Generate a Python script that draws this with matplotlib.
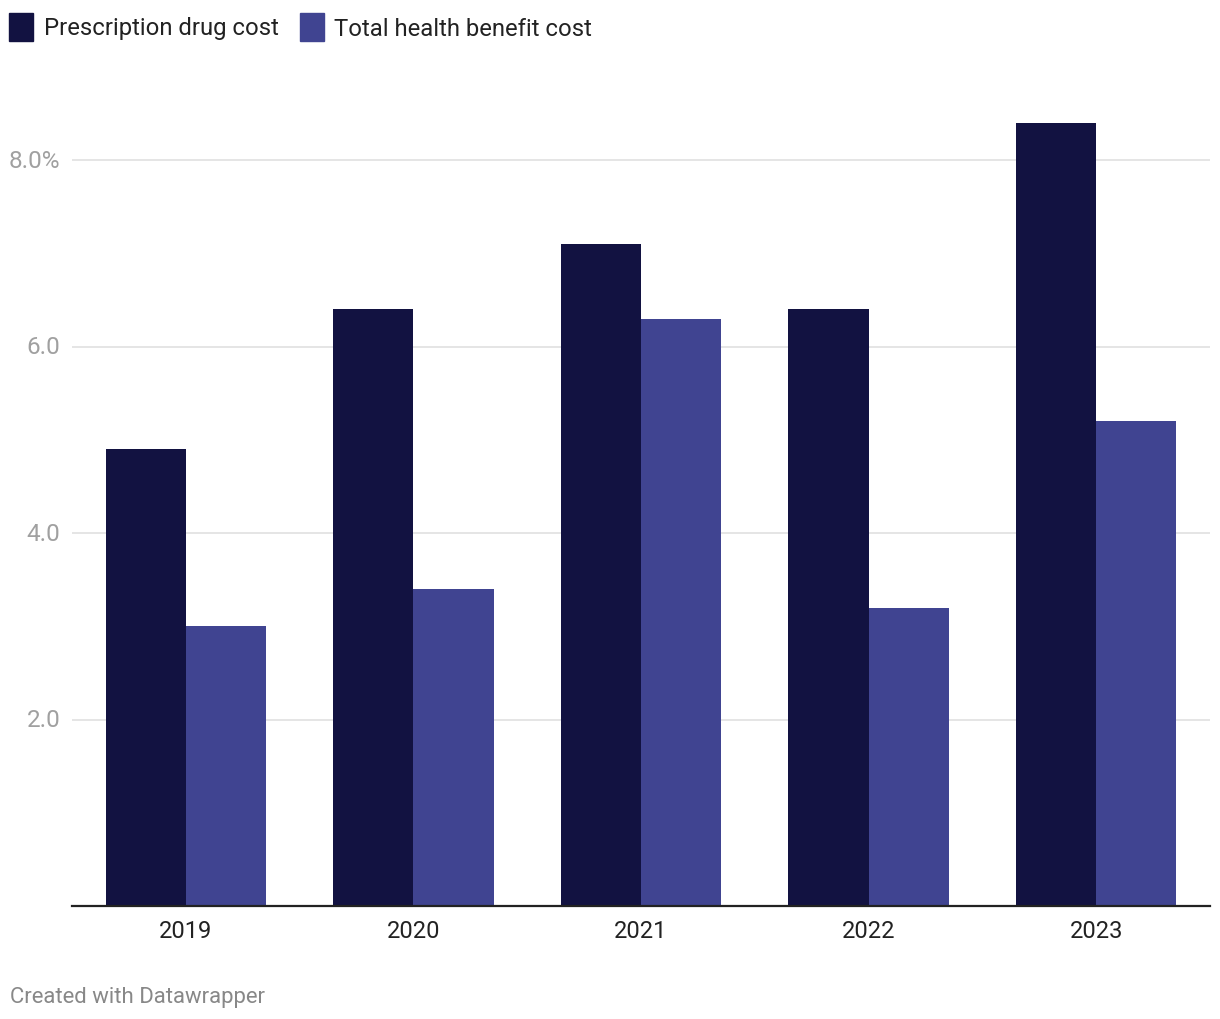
import matplotlib
matplotlib.use("Agg")
import matplotlib.pyplot as plt
import numpy as np
from matplotlib.patches import Rectangle
from matplotlib.transforms import ScaledTranslation

plt.rcParams['font.family'] = ['Roboto', 'DejaVu Sans']

years = ["2019", "2020", "2021", "2022", "2023"]
prescription = [4.9, 6.4, 7.1, 6.4, 8.4]
total_health = [3.0, 3.4, 6.3, 3.2, 5.2]
series_names = ["Prescription drug cost", "Total health benefit cost"]
colors = ["#121241", "#404491"]
yticks = [2.0, 4.0, 6.0, 8.0]
ytick_labels = ["2.0", "4.0", "6.0", "8.0%"]

W, H = 1220, 1020
fig = plt.figure(figsize=(W/100, H/100), dpi=100)
ax_left, ax_right, ax_bottom = 72, 1210, 907
ymax = 8.5
px_per = (905 - 159) / 8.0
ax_top = ax_bottom - ymax * px_per
ax = fig.add_axes([ax_left/W, 1 - ax_bottom/H, (ax_right-ax_left)/W, (ax_bottom-ax_top)/H])

x = np.arange(len(years))
bw = 0.352
ax.bar(x - bw/2, prescription, width=bw, color=colors[0], zorder=3)
ax.bar(x + bw/2, total_health, width=bw, color=colors[1], zorder=3)

ax.set_xlim(-0.5, len(years) - 0.5)
ax.set_ylim(0, ymax)
for s in ['top', 'right', 'left']:
    ax.spines[s].set_visible(False)
ax.spines['bottom'].set_color('#222222')
ax.spines['bottom'].set_linewidth(1.6)
ax.spines['bottom'].set_zorder(4)

ax.set_yticks(yticks)
ax.set_yticklabels(ytick_labels)
ax.tick_params(axis='y', length=0, pad=8.5, labelsize=17.5, labelcolor='#a0a0a0')
for lbl in ax.get_yticklabels():
    lbl.set_transform(lbl.get_transform() + ScaledTranslation(0, 2/100, fig.dpi_scale_trans))
ax.grid(axis='y', color='#e3e3e3', linewidth=1.3, zorder=0)
ax.set_xticks(x)
ax.set_xticklabels(years)
ax.tick_params(axis='x', length=0, pad=9.5, labelsize=17, labelcolor='#222222')

# Legend
def fx(px): return px / W
def fy(py): return 1 - py / H
leg = [(9, 44), (300, 334)]
for (sx, tx), name, c in zip(leg, series_names, colors):
    fig.patches.append(Rectangle((fx(sx), fy(42)), 24/W, 28/H, transform=fig.transFigure,
                                 color=c, figure=fig))
    fig.text(fx(tx), fy(29), name, fontsize=17.2, color='#222222', va='center', ha='left')

fig.text(fx(10), fy(998), "Created with Datawrapper", fontsize=15.9, color='#888888',
         va='center', ha='left')

fig.savefig("out.png", dpi=100)
